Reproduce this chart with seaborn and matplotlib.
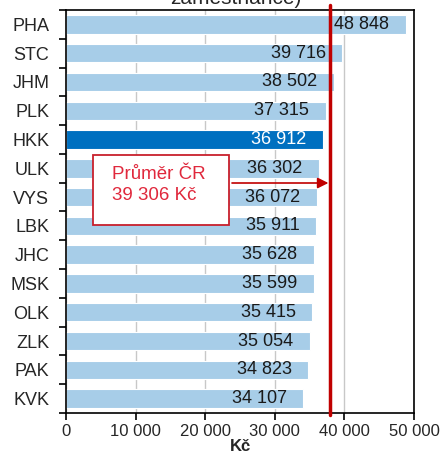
import matplotlib.pyplot as plt
import matplotlib
from matplotlib.patches import Rectangle
import numpy as np
import pandas as pd
import seaborn as sns

regions = ["PHA", "STC", "JHM", "PLK", "HKK", "ULK", "VYS", "LBK", "JHC", "MSK", "OLK", "ZLK", "PAK", "KVK"]
wages = [48848, 39716, 38502, 37315, 36912, 36302, 36072, 35911, 35628, 35599, 35415, 35054, 34823, 34107]
highlight = "HKK"
avg_label = 39306
avg_line = 37900  # where the red line actually sits in the picture
xticks = [0, 10000, 20000, 30000, 40000, 50000]

sns.set_theme(style="white")
matplotlib.rcParams['font.family'] = ['Liberation Sans', 'DejaVu Sans']

light = "#A7CDE8"
dark = "#0070C0"
red = "#C00000"
textred = "#E0283C"


def fmt(v):
    return "{:,}".format(v).replace(",", " ")


df = pd.DataFrame({"region": regions, "wage": wages})
palette = {r: (dark if r == highlight else light) for r in regions}

fig = plt.figure(figsize=(4.44, 4.62), dpi=100)
ax = fig.add_axes([66 / 444, 1 - 413 / 462, 348 / 444, 403 / 462])

sns.barplot(data=df, x="wage", y="region", hue="region", palette=palette,
            legend=False, orient="h", width=0.64, ax=ax, zorder=2,
            edgecolor="white", linewidth=0.8, saturation=1)

ax.set_xlim(0, 50000)
ax.set_ylim(len(regions) - 0.5, -0.5)
ax.set_xticks(xticks)
ax.set_xticklabels([fmt(v) for v in xticks], fontsize=12)
ax.xaxis.grid(True, color="#C8C8C8", linewidth=1, zorder=0)
ax.set_axisbelow(True)

# y tick marks between categories
ax.set_yticks(range(len(regions)))
ax.set_yticklabels(regions, fontsize=13)
ax.set_yticks(np.arange(-0.5, len(regions), 1), minor=True)
ax.tick_params(axis="y", which="major", length=0, pad=12)
ax.tick_params(axis="y", which="minor", left=True, length=5, width=1.2, color="black")
ax.tick_params(axis="x", which="major", bottom=True, length=5, width=1.2, color="black", pad=3)

for s in ax.spines.values():
    s.set_color("black")
    s.set_linewidth(1.2)

ax.set_ylabel("")
ax.set_xlabel("Kč", fontsize=12, fontweight="bold", labelpad=0)

# value labels inside bar ends
for i, (r, v) in enumerate(zip(regions, wages)):
    ax.annotate(fmt(v), xy=(v, i), xytext=(-12, 0), textcoords="offset points",
                ha="right", va="center", fontsize=13,
                color="white" if r == highlight else "#1a1a1a", zorder=4)

# average line
ax.axvline(avg_line, ymin=-0.005, ymax=1.013, color=red, linewidth=2.5,
           zorder=5, clip_on=False)

# callout box
ax.add_patch(Rectangle((3880, 4.54), 23420 - 3880, 6.97 - 4.54, facecolor="white",
                       edgecolor="#C8202C", linewidth=1.3, zorder=6))
ax.text(6610, 5.23, "Průměr ČR", fontsize=13.5, color=textred, ha="left", va="center", zorder=7)
ax.text(6610, 5.96, fmt(avg_label) + " Kč", fontsize=13.5, color=textred, ha="left", va="center", zorder=7)
ax.annotate("", xy=(avg_line - 200, 5.51), xytext=(23850, 5.51),
            arrowprops=dict(arrowstyle="-|>", color=red, lw=1.2, shrinkA=0, shrinkB=0,
                            mutation_scale=16),
            zorder=7)

fig.text(0.53, 1 - 4 / 462, "zaměstnance)", ha="center", va="baseline", fontsize=15)

plt.savefig("out.png", dpi=100)
